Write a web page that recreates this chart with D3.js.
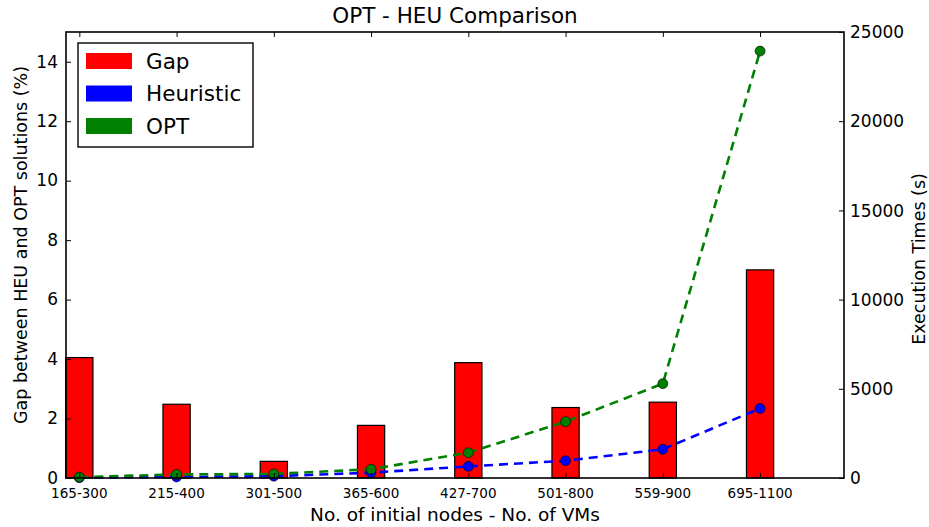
<!DOCTYPE html>
<html>
<head>
<meta charset="utf-8">
<title>OPT - HEU Comparison</title>
<script src="https://d3js.org/d3.v7.min.js"></script>
<style>
  body { margin: 0; background: #fff; }
  text { font-family: "DejaVu Sans", sans-serif; fill: #000; }
</style>
</head>
<body>
<script>
// data
var categories = ["165-300", "215-400", "301-500", "365-600", "427-700", "501-800", "559-900", "695-1100"];
var gapValues = [4.05, 2.48, 0.56, 1.77, 3.88, 2.37, 2.55, 7.0];
var heuristicTimes = [20, 60, 100, 300, 650, 970, 1610, 3900];
var optTimes = [50, 200, 230, 490, 1420, 3160, 5290, 23930];
var leftTicks = [0, 2, 4, 6, 8, 10, 12, 14];
var rightTicks = [0, 5000, 10000, 15000, 20000, 25000];

var width = 929, height = 527;
var margin = {top: 32, right: 85, bottom: 49, left: 66};
var x0 = margin.left, x1 = width - margin.right;
var y0 = height - margin.bottom, y1 = margin.top;

var svg = d3.select("body").append("svg")
    .attr("width", width)
    .attr("height", height);

var x = d3.scaleLinear().domain([0, 8]).range([x0, x1]);
var yLeft = d3.scaleLinear().domain([0, 15]).range([y0, y1]);
var yRight = d3.scaleLinear().domain([0, 25000]).range([y0, y1]);

var barW = 0.28, offset = 0.137;
function cx(i) { return x(i + offset); }

// bars
svg.selectAll(".bar")
    .data(gapValues)
    .enter().append("rect")
    .attr("class", "bar")
    .attr("x", function (d, i) { return x(i + offset - barW / 2); })
    .attr("width", x(barW) - x(0))
    .attr("y", function (d) { return yLeft(d); })
    .attr("height", function (d) { return y0 - yLeft(d); })
    .attr("fill", "#ff0000")
    .attr("stroke", "#000")
    .attr("stroke-width", 1.2);

// lines
var line = d3.line()
    .x(function (d, i) { return cx(i); })
    .y(function (d) { return yRight(d); });

function drawSeries(vals, color) {
    svg.append("path")
        .datum(vals)
        .attr("d", line)
        .attr("fill", "none")
        .attr("stroke", color)
        .attr("stroke-width", 2.6)
        .attr("stroke-dasharray", "9,6");
    svg.selectAll(null)
        .data(vals)
        .enter().append("circle")
        .attr("cx", function (d, i) { return cx(i); })
        .attr("cy", function (d) { return yRight(d); })
        .attr("r", 5)
        .attr("fill", color)
        .attr("stroke", "#000")
        .attr("stroke-width", 0.6);
}
drawSeries(heuristicTimes, "#0000ff");
drawSeries(optTimes, "#008000");

// axes (ticks inside, classic style)
var axisG = svg.append("g");
var catTicks = d3.range(8).map(function (i) { return i + offset; });

axisG.append("g").attr("transform", "translate(" + x0 + ",0)")
    .call(d3.axisRight(yLeft).tickValues(leftTicks).tickSize(5).tickFormat(""));
axisG.append("g").attr("transform", "translate(" + x1 + ",0)")
    .call(d3.axisLeft(yRight).tickValues(rightTicks).tickSize(5).tickFormat(""));
axisG.append("g").attr("transform", "translate(0," + y1 + ")")
    .call(d3.axisBottom(x).tickValues(catTicks).tickSize(5).tickFormat(""));
axisG.append("g").attr("transform", "translate(0," + y0 + ")")
    .call(d3.axisTop(x).tickValues(catTicks).tickSize(5).tickFormat(""));
axisG.selectAll(".domain").remove();
axisG.selectAll("line").attr("stroke", "#000").attr("stroke-width", 1);

svg.append("rect")
    .attr("x", x0).attr("y", y1)
    .attr("width", x1 - x0).attr("height", y0 - y1)
    .attr("fill", "none").attr("stroke", "#000").attr("stroke-width", 1.6);

// tick labels
svg.selectAll(".lt")
    .data(leftTicks)
    .enter().append("text")
    .attr("x", x0 - 8)
    .attr("y", function (d) { return yLeft(d); })
    .attr("dy", "0.34em")
    .attr("text-anchor", "end")
    .attr("font-size", 17)
    .text(function (d) { return d; });

svg.selectAll(".rt")
    .data(rightTicks)
    .enter().append("text")
    .attr("x", x1 + 6)
    .attr("y", function (d) { return yRight(d); })
    .attr("dy", "0.36em")
    .attr("text-anchor", "start")
    .attr("font-size", 17)
    .text(function (d) { return d; });

svg.selectAll(".bt")
    .data(categories)
    .enter().append("text")
    .attr("x", function (d, i) { return cx(i); })
    .attr("y", y0 + 20)
    .attr("text-anchor", "middle")
    .attr("font-size", 13.5)
    .text(function (d) { return d; });

// titles
svg.append("text")
    .attr("x", (x0 + x1) / 2).attr("y", 23)
    .attr("text-anchor", "middle")
    .attr("font-size", 21.5)
    .text("OPT - HEU Comparison");

svg.append("text")
    .attr("x", (x0 + x1) / 2).attr("y", 521)
    .attr("text-anchor", "middle")
    .attr("font-size", 18.5)
    .text("No. of initial nodes - No. of VMs");

svg.append("text")
    .attr("transform", "translate(27,245) rotate(-90)")
    .attr("text-anchor", "middle")
    .attr("font-size", 17.5)
    .text("Gap between HEU and OPT solutions (%)");

svg.append("text")
    .attr("transform", "translate(925,259) rotate(-90)")
    .attr("text-anchor", "middle")
    .attr("font-size", 17.5)
    .text("Execution Times (s)");

// legend
var legendItems = [["Gap", "#ff0000"], ["Heuristic", "#0000ff"], ["OPT", "#008000"]];
var legend = svg.append("g").attr("transform", "translate(78,43)");
legend.append("rect")
    .attr("width", 175).attr("height", 104)
    .attr("fill", "#fff").attr("stroke", "#000").attr("stroke-width", 1.4);
var li = legend.selectAll(".li")
    .data(legendItems)
    .enter().append("g")
    .attr("transform", function (d, i) { return "translate(0," + (18 + i * 32.5) + ")"; });
li.append("rect")
    .attr("x", 8).attr("y", -8)
    .attr("width", 46).attr("height", 16)
    .attr("fill", function (d) { return d[1]; });
li.append("text")
    .attr("x", 68).attr("dy", "0.36em")
    .attr("font-size", 21.5)
    .text(function (d) { return d[0]; });
</script>
</body>
</html>
